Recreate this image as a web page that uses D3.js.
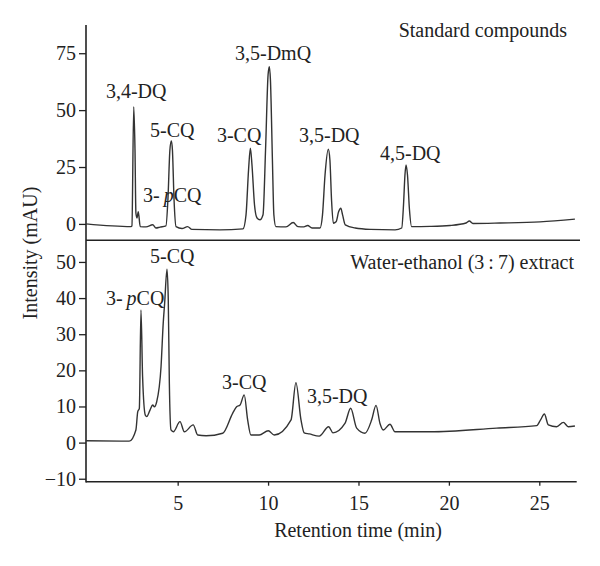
<!DOCTYPE html>
<html>
<head>
<meta charset="utf-8">
<script src="https://cdn.jsdelivr.net/npm/d3@7"></script>
<style>
  body { margin: 0; background: #fff; }
  svg text { font-family: "Liberation Serif", "DejaVu Serif", serif; fill: #222; }
</style>
</head>
<body>
<svg id="chart" width="600" height="566"></svg>
<script>
// retention time (min), absorbance (mAU)
const standardTrace = [
  [-0.07, 0], [2.42, -1.2], [2.47, -0.9], [2.57, 51.5], [2.64, 32.5], [2.69, 4.8], [2.75, 2.6],
  [2.82, 5.4], [2.93, -1.2], [3.25, -1.3], [3.62, -0.4], [3.80, -1.8], [4.02, -1.4], [4.35, -0.9],
  [4.46, 10.5], [4.57, 32.5], [4.65, 36.5], [4.71, 32.5], [4.80, 10.5], [4.91, -1.2], [5.24, -2.0],
  [5.55, -1.2], [5.79, -2.4], [7.34, -2.6], [8.61, -2.2], [8.78, 4.0], [8.92, 23.7], [9.02, 33.3],
  [9.11, 25.9], [9.25, 8.3], [9.39, 2.6], [9.55, 1.8], [9.72, 4.0], [9.86, 32.5], [10.0, 65.5],
  [10.07, 69.1], [10.13, 63.3], [10.24, 28.1], [10.32, 4.0], [10.43, -1.2], [10.99, -1.3],
  [11.39, 0.6], [11.65, -1.2], [11.98, -1.3], [12.19, -0.7], [12.43, -1.8], [12.87, -1.8],
  [13.01, 4.0], [13.15, 21.5], [13.33, 32.8], [13.42, 28.1], [13.51, 10.5], [13.61, 0.3],
  [13.76, 0.9], [13.9, 5.3], [14.02, 6.9], [14.12, 4.0], [14.27, -0.4], [14.82, -1.8],
  [15.65, -2.4], [17.02, -2.6], [17.39, -1.8], [17.49, 8.3], [17.57, 21.5], [17.63, 25.9],
  [17.71, 21.5], [17.82, 6.2], [17.94, -1.2], [18.96, -1.1], [20.06, -0.7], [20.95, 0.4],
  [21.13, 1.3], [21.33, 0.2], [22.83, 0.4], [25.04, 0.9], [26.97, 2.1]
];

const extractTrace = [
  [-0.07, 0.5], [2.32, 0.4], [2.69, 3.5], [2.79, 8.5], [2.88, 9.5], [2.97, 36.7], [3.06, 18.2],
  [3.21, 7.6], [3.29, 7.2], [3.47, 9.0], [3.62, 10.4], [3.71, 9.9], [3.84, 11.3], [4.08, 21.0],
  [4.20, 33.0], [4.28, 38.6], [4.41, 48.0], [4.48, 39.5], [4.54, 16.4], [4.63, 3.5], [4.76, 3.0],
  [5.13, 5.8], [5.37, 3.0], [5.86, 4.9], [6.11, 2.1], [6.57, 1.9], [7.49, 2.6], [8.04, 8.1],
  [8.26, 9.9], [8.45, 10.4], [8.68, 13.2], [8.87, 6.3], [9.05, 2.1], [9.51, 2.1], [10.01, 3.3],
  [10.34, 2.1], [11.27, 6.3], [11.54, 16.6], [11.82, 6.3], [12.0, 2.7], [12.28, 2.4], [12.83, 1.8],
  [13.35, 4.4], [13.59, 2.7], [14.25, 5.3], [14.57, 9.5], [14.9, 4.0], [15.36, 2.6], [15.73, 6.3],
  [15.97, 10.3], [16.19, 5.3], [16.37, 3.5], [16.74, 5.1], [17.02, 3.0], [18.95, 3.0],
  [22.64, 4.0], [24.86, 4.7], [25.07, 6.3], [25.28, 7.9], [25.5, 4.9], [25.96, 4.4], [26.33, 5.6],
  [26.6, 4.4], [26.97, 4.6]
];

// peak names: [retention time, intensity, text, italic part, rest]
const standardLabels = [
  [1.03, 55.3, "3,4-DQ"],
  [3.47, 38.2, "5-CQ"],
  [3.08, 9.6, "3-", "p", "CQ"],
  [7.17, 36.0, "3-CQ"],
  [8.17, 72.0, "3,5-DmQ"],
  [11.71, 36.0, "3,5-DQ"],
  [16.19, 28.1, "4,5-DQ"]
];
const extractLabels = [
  [3.47, 49.7, "5-CQ"],
  [1.03, 38.1, "3-", "p", "CQ"],
  [7.45, 14.8, "3-CQ"],
  [12.15, 11.0, "3,5-DQ"]
];

const timeTicks = [5, 10, 15, 20, 25];
const standardTicks = [0, 25, 50, 75];
const extractTicks = [-10, 0, 10, 20, 30, 40, 50];

const svg = d3.select('#chart');
const plotLeft = 86, plotRight = 576, plotTop = 25, plotMid = 240.3, plotBottom = 481.7;

const x = d3.scaleLinear().domain([-0.07, 27.03]).range([plotLeft, plotRight]);
const yTop = d3.scaleLinear().domain([-7.2, 87.4]).range([plotMid, plotTop]);
const yBot = d3.scaleLinear().domain([-10.82, 55.99]).range([plotBottom, plotMid]);

function styleAxis(g) {
  g.select('.domain').remove();
  g.selectAll('line').attr('stroke', '#222').attr('stroke-width', 1.3);
  g.selectAll('text').attr('font-size', 20).attr('font-family', '"Liberation Serif", serif').attr('fill', '#222');
}

svg.append('g').attr('transform', 'translate(' + plotLeft + ',0)')
  .call(d3.axisLeft(yTop).tickValues(standardTicks).tickSize(7).tickPadding(3))
  .call(styleAxis);

svg.append('g').attr('transform', 'translate(' + plotLeft + ',0)')
  .call(d3.axisLeft(yBot).tickValues(extractTicks).tickSize(7).tickPadding(3)
    .tickFormat(d => d < 0 ? '\u2212' + Math.abs(d) : d))
  .call(styleAxis);

svg.append('g').attr('transform', 'translate(0,' + plotBottom + ')')
  .call(d3.axisBottom(x).tickValues(timeTicks).tickSize(4).tickPadding(10))
  .call(styleAxis);

// frame lines
svg.append('line').attr('x1', plotLeft).attr('x2', plotLeft).attr('y1', plotTop).attr('y2', plotBottom + 0.7)
  .attr('stroke', '#222').attr('stroke-width', 1.6);
svg.append('line').attr('x1', plotLeft).attr('x2', 580).attr('y1', plotMid).attr('y2', plotMid)
  .attr('stroke', '#222').attr('stroke-width', 1.6);
svg.append('line').attr('x1', plotLeft).attr('x2', plotRight + 0.7).attr('y1', plotBottom).attr('y2', plotBottom)
  .attr('stroke', '#222').attr('stroke-width', 1.6);

const lineTop = d3.line().x(d => x(d[0])).y(d => yTop(d[1])).curve(d3.curveMonotoneX);
const lineBot = d3.line().x(d => x(d[0])).y(d => yBot(d[1])).curve(d3.curveMonotoneX);

svg.append('path').datum(standardTrace).attr('d', lineTop)
  .attr('fill', 'none').attr('stroke', '#333').attr('stroke-width', 1.4).attr('stroke-linejoin', 'round');
svg.append('path').datum(extractTrace).attr('d', lineBot)
  .attr('fill', 'none').attr('stroke', '#333').attr('stroke-width', 1.4).attr('stroke-linejoin', 'round');

function addLabels(labels, y) {
  labels.forEach(l => {
    const t = svg.append('text').attr('x', x(l[0])).attr('y', y(l[1])).attr('font-size', 20);
    if (l.length > 3) {
      t.append('tspan').text(l[2]);
      t.append('tspan').attr('dx', 4).attr('font-style', 'italic').text(l[3]);
      t.append('tspan').text(l[4]);
    } else {
      t.text(l[2]);
    }
  });
}
addLabels(standardLabels, yTop);
addLabels(extractLabels, yBot);

svg.append('text').attr('x', 567).attr('y', 37).attr('text-anchor', 'end')
  .attr('font-size', 20).text('Standard compounds');
svg.append('text').attr('x', 574).attr('y', 269).attr('text-anchor', 'end')
  .attr('font-size', 20).text('Water-ethanol (3\u2009:\u20097) extract');

svg.append('text').attr('x', 358).attr('y', 537).attr('text-anchor', 'middle')
  .attr('font-size', 20).text('Retention time (min)');
svg.append('text').attr('transform', 'translate(37,253) rotate(-90)').attr('text-anchor', 'middle')
  .attr('font-size', 20).text('Intensity (mAU)');
</script>
</body>
</html>
